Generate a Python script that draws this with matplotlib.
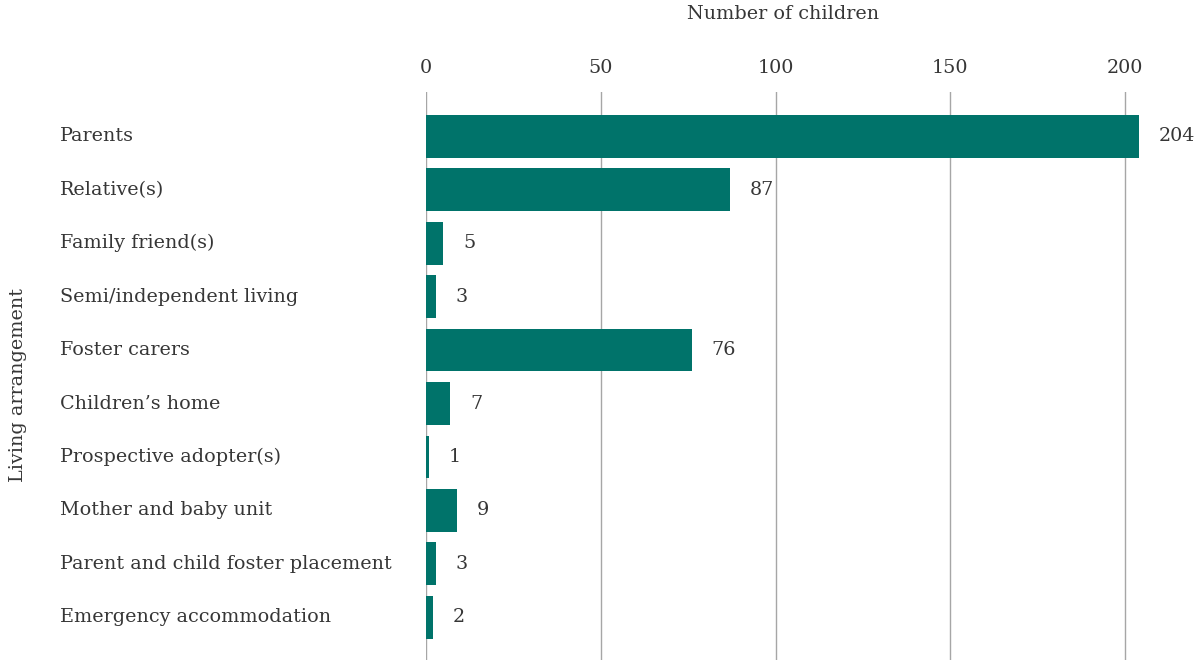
import matplotlib.pyplot as plt
from matplotlib.transforms import blended_transform_factory

# Living arrangements and number of children in each
categories = [
    "Parents",
    "Relative(s)",
    "Family friend(s)",
    "Semi/independent living",
    "Foster carers",
    "Children\u2019s home",
    "Prospective adopter(s)",
    "Mother and baby unit",
    "Parent and child foster placement",
    "Emergency accommodation",
]
children = [204, 87, 5, 3, 76, 7, 1, 9, 3, 2]
ticks = [0, 50, 100, 150, 200]

BAR = "#00736A"
TEXT = "#363636"
FS = 13.8

plt.rcParams["font.family"] = ["DejaVu Serif"]

fig = plt.figure(figsize=(11.97, 6.6), dpi=100)
ax = fig.add_axes([426 / 1197, 0, 769 / 1197, 1 - 92 / 660])

ypos = list(range(len(categories)))
ax.barh(ypos, children, height=0.8, color=BAR, zorder=3)

for y, v in zip(ypos, children):
    ax.annotate(str(v), (v, y), xytext=(14, 0), textcoords="offset points",
                va="center", ha="left", fontsize=FS, color=TEXT)

ax.set_xlim(0, 220)
ax.set_ylim(9.8, -0.83)
ax.set_xticks(ticks)
ax.xaxis.tick_top()
ax.tick_params(axis="x", length=0, pad=11, labelsize=FS, labelcolor=TEXT)
ax.set_yticks([])
ax.grid(axis="x", color="#a6a6a6", linewidth=1, zorder=0)
for s in ax.spines.values():
    s.set_visible(False)

# category names sit left-aligned in the left margin
label_tr = blended_transform_factory(fig.transFigure, ax.transData)
for y, name in zip(ypos, categories):
    ax.text(60 / 1197, y, name, transform=label_tr, fontsize=FS, color=TEXT,
            va="center", ha="left")

fig.text(783 / 1197, 1 - 14 / 660, "Number of children", ha="center", va="center",
         fontsize=FS, color=TEXT)
fig.text(18 / 1197, 1 - 385 / 660, "Living arrangement", rotation=90, ha="center",
         va="center", fontsize=FS, color=TEXT)

fig.savefig("out.png", dpi=100)
